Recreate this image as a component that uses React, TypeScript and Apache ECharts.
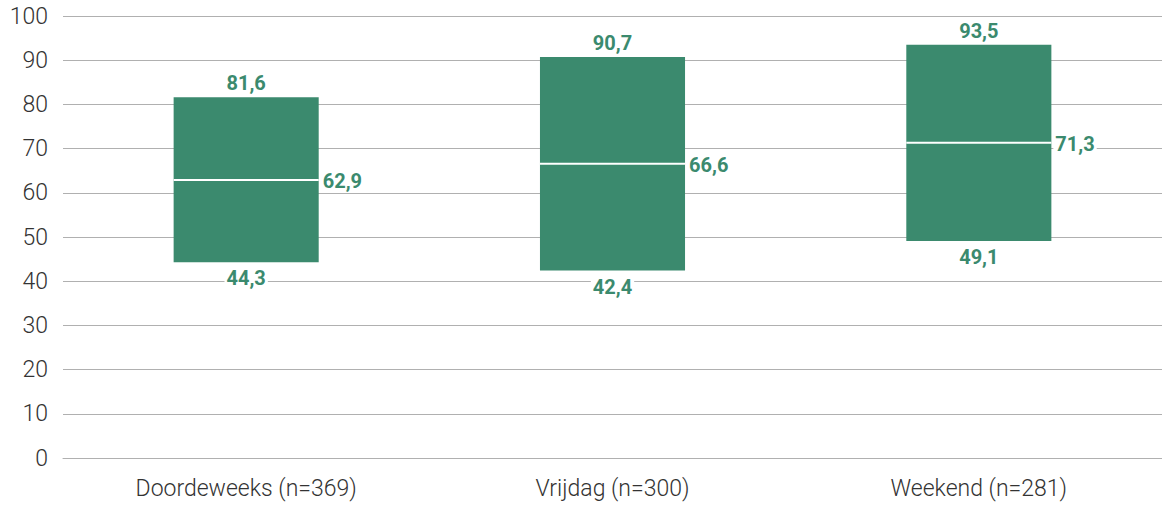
import React, { useEffect, useRef } from "react";
import * as echarts from "echarts";

const categories = ["Doordeweeks (n=369)", "Vrijdag (n=300)", "Weekend (n=281)"];
const lowValues = [44.3, 42.4, 49.1];
const medianValues = [62.9, 66.6, 71.3];
const highValues = [81.6, 90.7, 93.5];

const GREEN = "#3b8a6e";
const fmt = (v: number) => v.toFixed(1).replace(".", ",");

export default function App() {
  const ref = useRef<HTMLDivElement>(null);
  useEffect(() => {
    if (!ref.current) return;
    const chart = echarts.init(ref.current, undefined, { renderer: "svg" });
    const data = categories.map((_, i) => [i, lowValues[i], medianValues[i], highValues[i]]);
    const labelStyle = (text: string, align: string, vAlign: string) => ({
      text,
      fill: GREEN,
      fontFamily: "Roboto",
      fontWeight: "bold",
      fontSize: 20,
      align,
      verticalAlign: vAlign,
      backgroundColor: "#fff",
      padding: [0, 2],
    });
    chart.setOption({
      animation: false,
      grid: { left: 63, right: 0, top: 16, bottom: 48 },
      xAxis: {
        type: "category",
        data: categories,
        axisLine: { show: true, lineStyle: { color: "#b0b0b0", width: 1 } },
        axisTick: { show: false },
        axisLabel: {
          color: "#333",
          fontFamily: "Roboto",
          fontWeight: 300,
          fontSize: 23,
          margin: 19,
        },
      },
      yAxis: {
        type: "value",
        min: 0,
        max: 100,
        interval: 10,
        axisLine: { show: false },
        axisTick: { show: false },
        splitLine: { lineStyle: { color: "#b0b0b0", width: 1 } },
        axisLabel: {
          color: "#333",
          fontFamily: "Roboto",
          fontWeight: 300,
          fontSize: 23,
          margin: 15,
        },
      },
      series: [
        {
          type: "custom",
          data,
          encode: { x: 0, y: [1, 2, 3] },
          renderItem: (params: any, api: any) => {
            const idx = api.value(0);
            const lo = api.value(1);
            const med = api.value(2);
            const hi = api.value(3);
            const pLo = api.coord([idx, lo]);
            const pMed = api.coord([idx, med]);
            const pHi = api.coord([idx, hi]);
            const band = api.size([1, 0])[0];
            const w = band * 0.396;
            const x0 = pLo[0] - w / 2;
            return {
              type: "group",
              children: [
                {
                  type: "rect",
                  shape: { x: x0, y: pHi[1], width: w, height: pLo[1] - pHi[1] },
                  style: { fill: GREEN },
                },
                {
                  type: "line",
                  shape: { x1: x0, y1: pMed[1], x2: x0 + w, y2: pMed[1] },
                  style: { stroke: "#fff", lineWidth: 2 },
                },
                {
                  type: "text",
                  x: pHi[0],
                  y: pHi[1] - 14,
                  style: labelStyle(fmt(hi), "center", "middle"),
                },
                {
                  type: "text",
                  x: pLo[0],
                  y: pLo[1] + 16,
                  style: labelStyle(fmt(lo), "center", "middle"),
                },
                {
                  type: "text",
                  x: x0 + w + 2,
                  y: pMed[1] + 1,
                  style: labelStyle(fmt(med), "left", "middle"),
                },
              ],
            };
          },
        },
      ],
    });
    return () => chart.dispose();
  }, []);
  return (
    <div
      ref={ref}
      style={{ position: "fixed", left: 0, top: 0, width: 1162, height: 506, background: "#fff" }}
    />
  );
}
